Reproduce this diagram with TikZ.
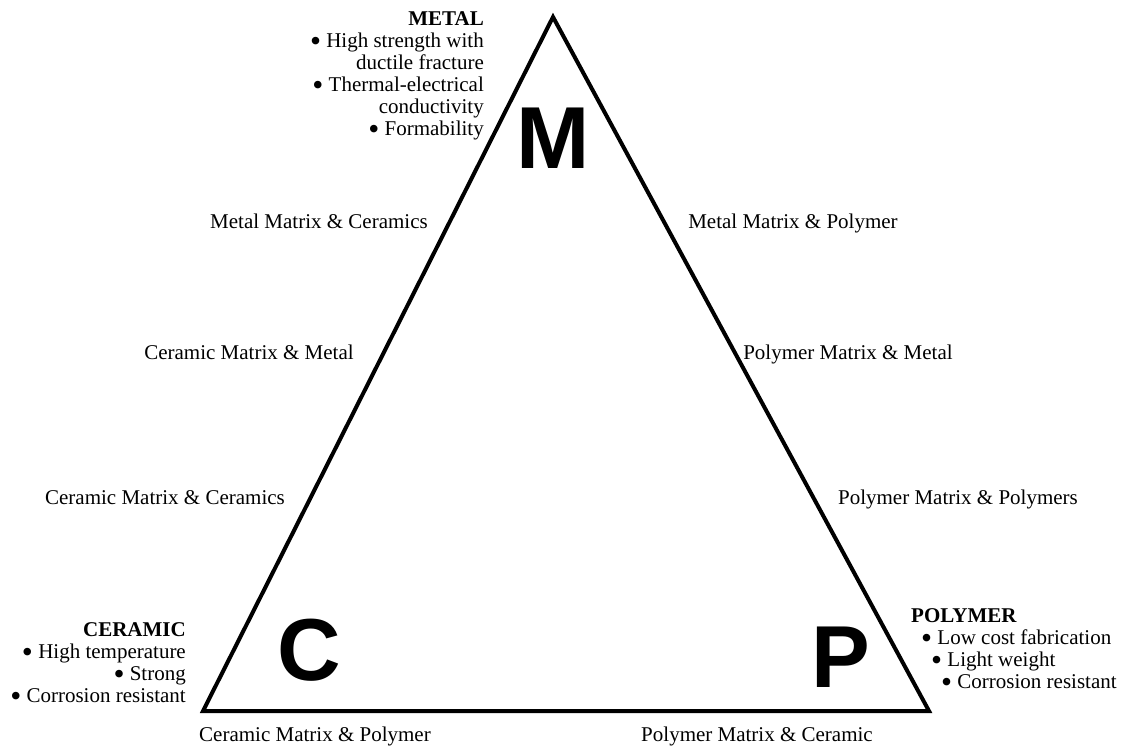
\documentclass[tikz,border=0pt]{standalone}
\usepackage{fontspec}
\setmainfont{Liberation Serif}
\newfontfamily\lettersans{Liberation Sans}
\usetikzlibrary{positioning}

\newcommand\dotmark{\smash{\raisebox{-0.2em}{\scalebox{1.5}{\textbullet}}}}

\tikzset{
	side/.style={line width=4pt},
	pairlbl/.style={font=\fontsize{21}{22}\selectfont, inner sep=0pt, anchor=base},
	propblock/.style={font=\fontsize{21}{22}\selectfont, inner sep=0pt},
	bigletter/.style={font=\lettersans\bfseries\fontsize{88}{88}\selectfont, inner sep=0pt}
}

\begin{document}
\begin{tikzpicture}[x=1pt, y=-1pt]
			%%%%% START %%%%%
			
			\useasboundingbox (0, 0) rectangle (1133, 746);
			
			\coordinate (M) at (553, 17);
			\coordinate (C) at (203, 711);
			\coordinate (P) at (929, 711);
			\draw[side] (M) -- (C) -- (P) -- cycle;
			
			\node[bigletter] (Mlet) at (553, 138) {M};
			\node[bigletter] (Clet) at (309, 650) {C};
			\node[bigletter] (Plet) at (841, 657) {P};
			
			\node[propblock, anchor=north east, align=right] (metal) at (484, 11)
				{\textbf{METAL}\\ \dotmark{} High strength with\\ ductile fracture\\ \dotmark{} Thermal-electrical\\ conductivity\\ \dotmark{} Formability};
			\node[propblock, anchor=north east, align=right] (ceramic) at (186, 622)
				{\textbf{CERAMIC}\\ \dotmark{} High temperature\\ \dotmark{} Strong\\ \dotmark{} Corrosion resistant};
			\node[propblock, anchor=north west, align=left] (polymer) at (911, 608)
				{\textbf{POLYMER}\\ \hspace*{10pt}\dotmark{} Low cost fabrication\\ \hspace*{20pt}\dotmark{} Light weight\\ \hspace*{30pt}\dotmark{} Corrosion resistant};
			
			\node[pairlbl] (mmc) at (319, 229) {Metal Matrix \& Ceramics};
			\node[pairlbl] (mmp) at (793, 229) {Metal Matrix \& Polymer};
			\node[pairlbl] (cmm) at (249, 359) {Ceramic Matrix \& Metal};
			\node[pairlbl] (pmm) at (848, 359) {Polymer Matrix \& Metal};
			\node[pairlbl] (cmc) at (165, 504) {Ceramic Matrix \& Ceramics};
			\node[pairlbl] (pmp) at (958, 504) {Polymer Matrix \& Polymers};
			\node[pairlbl] (cmp) at (315, 741) {Ceramic Matrix \& Polymer};
			\node[pairlbl] (pmc) at (757, 741) {Polymer Matrix \& Ceramic};
			
			%%%%% END %%%%%
		\end{tikzpicture}
\end{document}
